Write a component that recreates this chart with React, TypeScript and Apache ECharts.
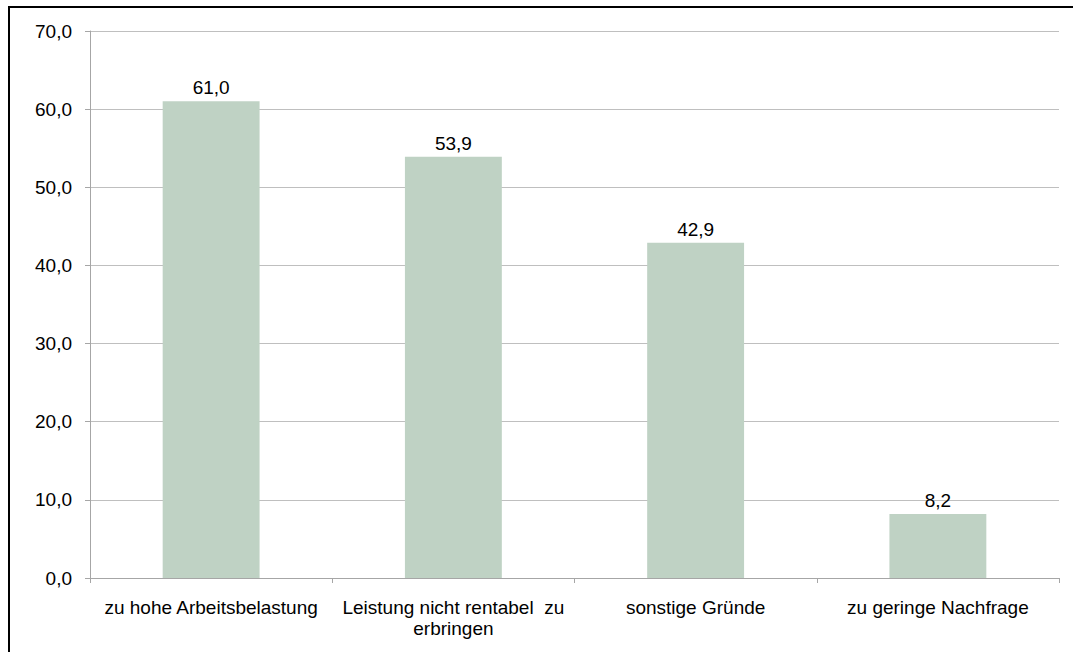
import React, { useEffect, useRef } from "react";
import * as echarts from "echarts";

const categories = [
  "zu hohe Arbeitsbelastung",
  "Leistung nicht rentabel  zu\nerbringen",
  "sonstige Gründe",
  "zu geringe Nachfrage",
];
const values = [61.0, 53.9, 42.9, 8.2];
const yMin = 0;
const yMax = 70;
const yStep = 10;

const fmt = (v: number) => v.toFixed(1).replace(".", ",");

export default function App() {
  const ref = useRef<HTMLDivElement>(null);
  useEffect(() => {
    const chart = echarts.init(ref.current!, null, { renderer: "svg" });
    const font = "Liberation Sans, Arial, sans-serif";
    chart.setOption({
      animation: false,
      backgroundColor: "#ffffff",
      textStyle: { fontFamily: font },
      grid: { left: 90, right: 14, top: 31, bottom: 74, containLabel: false },
      xAxis: {
        type: "category",
        data: categories,
        axisLine: { show: true, lineStyle: { color: "#a6a6a6", width: 1 } },
        axisTick: { show: true, length: 5, interval: 0, lineStyle: { color: "#a6a6a6" } },
        axisLabel: {
          interval: 0,
          color: "#000000",
          fontSize: 19,
          fontFamily: font,
          margin: 19,
          lineHeight: 21,
        },
      },
      yAxis: {
        type: "value",
        min: yMin,
        max: yMax,
        interval: yStep,
        axisLine: { show: true, lineStyle: { color: "#a6a6a6", width: 1 } },
        axisTick: { show: true, length: 5, lineStyle: { color: "#a6a6a6" } },
        splitLine: { show: true, lineStyle: { color: "#bfbfbf", width: 1 } },
        axisLabel: {
          color: "#000000",
          fontSize: 19,
          fontFamily: font,
          margin: 18,
          formatter: (v: number) => fmt(v),
        },
      },
      series: [
        {
          type: "bar",
          data: values,
          barWidth: "40%",
          itemStyle: { color: "#bfd2c4" },
          label: {
            show: true,
            position: "top",
            distance: 4,
            color: "#000000",
            fontSize: 19,
            fontFamily: font,
            formatter: (p: any) => fmt(p.value),
          },
        },
      ],
      graphic: [
        {
          type: "line",
          shape: { x1: 8, y1: 7, x2: 1073, y2: 7 },
          style: { stroke: "#000000", lineWidth: 2 },
        },
        {
          type: "line",
          shape: { x1: 9, y1: 6, x2: 9, y2: 652 },
          style: { stroke: "#000000", lineWidth: 2 },
        },
      ],
    });
    return () => chart.dispose();
  }, []);
  return (
    <div
      ref={ref}
      style={{ position: "fixed", left: 0, top: 0, width: 1073, height: 652 }}
    />
  );
}
